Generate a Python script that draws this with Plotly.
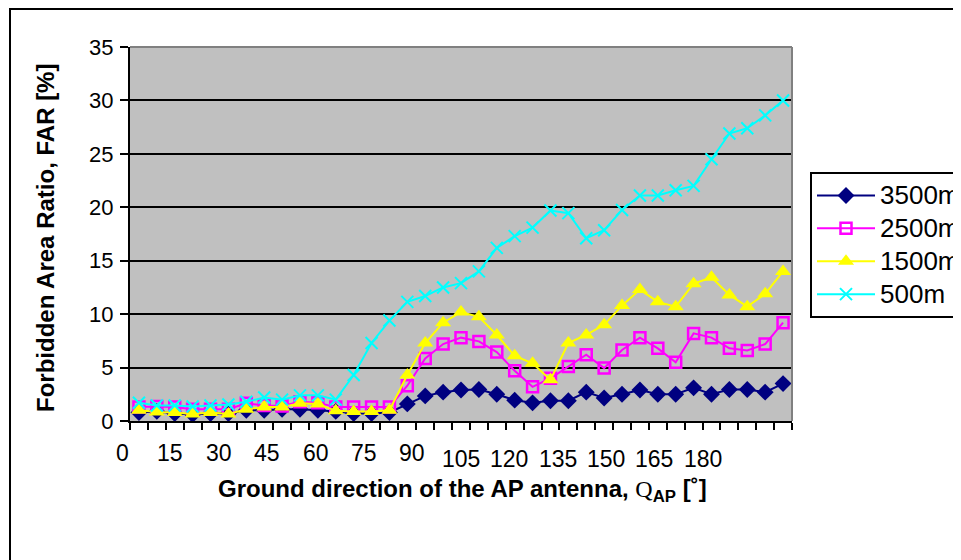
import plotly.graph_objects as go

# ---- data ----
ANGLES = [0, 5, 10, 15, 20, 25, 30, 35, 40, 45, 50, 55, 60, 65, 70, 75, 80, 85, 90,
          95, 100, 105, 110, 115, 120, 125, 130, 135, 140, 145, 150, 155, 160, 165,
          170, 175, 180]
FAR_3500 = [0.8, 0.9, 0.7, 0.6, 0.7, 0.7, 1.0, 1.0, 1.1, 1.1, 1.0, 0.9, 0.7, 0.7, 0.8,
            1.6, 2.35, 2.7, 2.9, 2.95, 2.5, 1.95, 1.7, 1.9, 1.9, 2.7, 2.15, 2.5, 2.9,
            2.5, 2.5, 3.1, 2.5, 2.95, 2.95, 2.7, 3.5]
FAR_2500 = [1.3, 1.35, 1.3, 1.1, 1.1, 1.1, 1.65, 1.45, 1.4, 1.8, 1.7, 1.3, 1.3, 1.3, 1.3,
            3.3, 5.85, 7.2, 7.8, 7.45, 6.45, 4.7, 3.2, 4.0, 5.1, 6.2, 4.95, 6.65, 7.8,
            6.8, 5.5, 8.2, 7.8, 6.8, 6.6, 7.2, 9.2]
FAR_1500 = [1.0, 0.85, 0.8, 0.65, 0.8, 0.65, 1.1, 1.3, 1.3, 1.65, 1.6, 0.95, 0.9, 0.9, 1.0,
            4.3, 7.3, 9.2, 10.2, 9.75, 8.05, 6.1, 5.4, 3.85, 7.3, 8.05, 9.0, 10.8, 12.3,
            11.15, 10.7, 12.85, 13.45, 11.8, 10.7, 11.9, 14.0]
FAR_500 = [1.7, 1.45, 1.45, 1.35, 1.45, 1.55, 1.8, 2.2, 2.0, 2.4, 2.4, 2.0, 4.3, 7.3, 9.4,
           11.15, 11.7, 12.5, 12.9, 14.0, 16.2, 17.3, 18.1, 19.7, 19.45, 17.1, 17.85,
           19.75, 21.1, 21.1, 21.6, 22.0, 24.5, 26.9, 27.4, 28.6, 30.0]

SERIES_NAMES = ["3500m", "2500m", "1500m", "500m"]
X_TICK_LABELS = ["0", "15", "30", "45", "60", "75", "90",
                 "105", "120", "135", "150", "165", "180"]
Y_TICKS = [0, 5, 10, 15, 20, 25, 30, 35]

# ---- geometry (page pixels; the page body adds an 8px offset) ----
OFF = 8
W, H = 961 - OFF, 560 - OFF
PL, PR, PT, PB = 130 - OFF, 792 - OFF, 47 - OFF, 421 - OFF
pw, ph = PR - PL, PB - PT


def px(xp):
    return (xp - OFF - PL) / pw


def py(yp):
    return (PB - (yp - OFF)) / ph


FONT = "Arial, Liberation Sans, sans-serif"
NARROW = "Liberation Sans Narrow, Arial Narrow, Liberation Sans, sans-serif"

styles = [
    dict(color="#000080", symbol="diamond", size=13, line=dict(width=0)),
    dict(color="rgba(0,0,0,0)", symbol="square", size=11, line=dict(color="#FF00FF", width=2.5)),
    dict(color="#FFFF00", symbol="triangle-up", size=14, line=dict(width=0)),
    dict(color="#00FFFF", symbol="x-thin", size=12, line=dict(color="#00FFFF", width=2)),
]
line_colors = ["#000080", "#FF00FF", "#FFFF00", "#00FFFF"]

fig = go.Figure()
for name, vals, mk, lc in zip(SERIES_NAMES, [FAR_3500, FAR_2500, FAR_1500, FAR_500],
                              styles, line_colors):
    fig.add_trace(go.Scatter(x=ANGLES, y=vals,
                             name="<span style='font-size:26px'>" + name + "</span>",
                             mode="lines+markers",
                             line=dict(color=lc, width=2), marker=mk,
                             legendgroup=name))

step = ANGLES[1] - ANGLES[0]
bounds = [ANGLES[0] - step / 2 + step * k for k in range(len(ANGLES) + 1)]

fig.update_layout(
    width=W, height=H,
    margin=dict(l=PL, r=W - PR, t=PT, b=H - PB, autoexpand=False),
    paper_bgcolor="white", plot_bgcolor="#C0C0C0",
    font=dict(family=FONT, color="black", size=22),
    showlegend=True,
    legend=dict(x=px(810), y=py(172), xanchor="left", yanchor="top",
                bgcolor="white", bordercolor="black", borderwidth=2,
                font=dict(family=FONT, size=23, color="black"),
                itemwidth=58, tracegroupgap=0, traceorder="grouped"),
    xaxis=dict(range=[bounds[0], bounds[-1]], showgrid=False, zeroline=False,
               showline=True, linecolor="black", linewidth=2,
               tickmode="array", tickvals=bounds, ticks="outside", ticklen=7,
               tickwidth=2, tickcolor="black", showticklabels=False),
    yaxis=dict(range=[0, 35], tickmode="array", tickvals=Y_TICKS,
               showgrid=True, gridcolor="black", gridwidth=2, zeroline=False,
               showline=True, linecolor="black", linewidth=2,
               ticks="outside", ticklen=8, tickwidth=2, tickcolor="black",
               ticklabelstandoff=2,
               tickfont=dict(family=FONT, size=22, color="black")),
)

shapes = [
    dict(type="line", xref="paper", yref="paper", x0=0, x1=1, y0=1, y1=1,
         line=dict(color="#808080", width=2)),
    dict(type="line", xref="paper", yref="paper", x0=1, x1=1, y0=0, y1=1,
         line=dict(color="#808080", width=2)),
    dict(type="rect", xref="paper", yref="paper",
         x0=px(10), x1=px(980), y0=py(580), y1=py(OFF + 1),
         line=dict(color="black", width=2), fillcolor="rgba(0,0,0,0)", layer="below"),
]
fig.update_layout(shapes=shapes)

annotations = []
for i, lab in enumerate(X_TICK_LABELS):
    cx = 122 + i * 48.4
    cy = 453 if i < 7 else 459
    annotations.append(dict(text=lab, x=px(cx), y=py(cy),
                            xref="paper", yref="paper", xanchor="center", yanchor="middle",
                            showarrow=False, font=dict(family=NARROW, size=23, color="black")))

annotations.append(dict(
    text="<b>Ground direction of the AP antenna, </b>"
         "<span style='font-family:Liberation Serif, serif'>Q</span>"
         "<b><sub>AP</sub> [˚]</b>",
    x=px(462), y=py(490), xref="paper", yref="paper",
    xanchor="center", yanchor="middle", showarrow=False,
    font=dict(family=FONT, size=24, color="black")))
annotations.append(dict(
    text="<b>Forbidden Area Ratio, FAR [%]</b>",
    x=px(45), y=py(238), xref="paper", yref="paper",
    xanchor="center", yanchor="middle", textangle=-90, showarrow=False,
    font=dict(family=FONT, size=24, color="black")))
fig.update_layout(annotations=annotations)

fig.write_html("out.html")
